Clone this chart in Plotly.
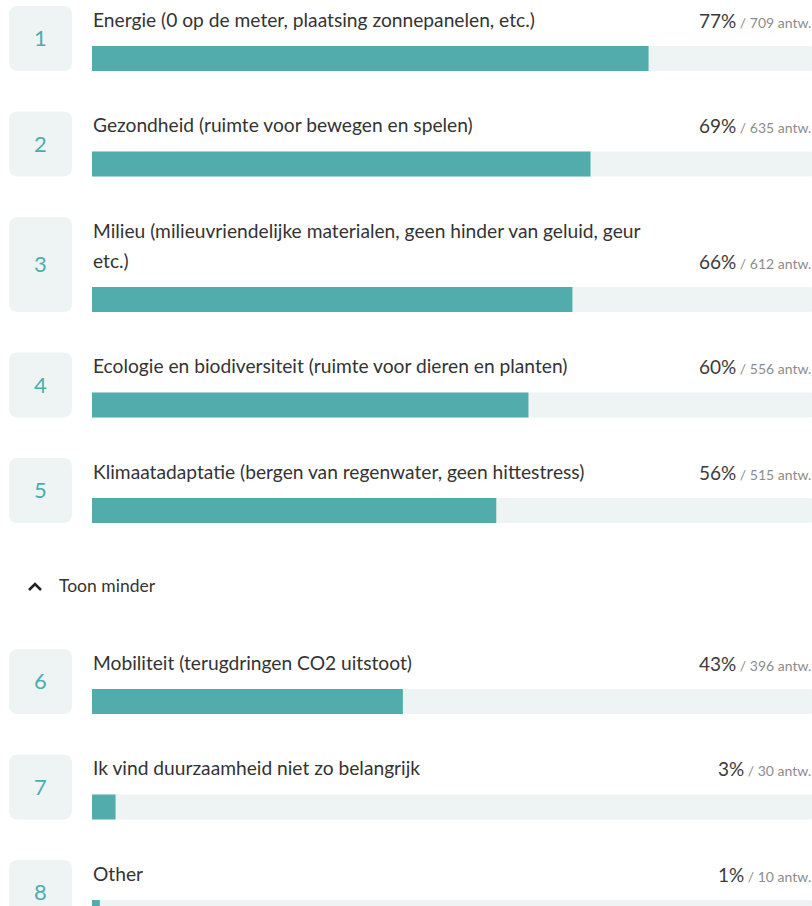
import textwrap
import plotly.graph_objects as go

# ---- data ----
ranks = [1, 2, 3, 4, 5, 6, 7, 8]
labels = [
    "Energie (0 op de meter, plaatsing zonnepanelen, etc.)",
    "Gezondheid (ruimte voor bewegen en spelen)",
    "Milieu (milieuvriendelijke materialen, geen hinder van geluid, geur etc.)",
    "Ecologie en biodiversiteit (ruimte voor dieren en planten)",
    "Klimaatadaptatie (bergen van regenwater, geen hittestress)",
    "Mobiliteit (terugdringen CO2 uitstoot)",
    "Ik vind duurzaamheid niet zo belangrijk",
    "Other",
]
percents = [77, 69, 66, 60, 56, 43, 3, 1]
counts = [709, 635, 612, 556, 515, 396, 30, 10]
total_respondents = 921
toggle_text = "Toon minder"
count_suffix = "antw."

# ---- styling / layout ----
W, H = 812, 906
FONT = "Lato"
TEAL = "#53acac"
TRACK = "#eef4f4"
BOX = "#eef4f4"
TXT = "#333333"
GREY = "#8c8c8c"

track_x0 = 92
track_w = 723
pitch = 105.5
line_h = 30
toon_gap = 85.5
wrap_chars = 67

fig = go.Figure()
shapes = []
annotations = []

def rrect(x0, y0, x1, y1, r):
    return (f"M{x0+r},{y0} L{x1-r},{y0} Q{x1},{y0} {x1},{y0+r} "
            f"L{x1},{y1-r} Q{x1},{y1} {x1-r},{y1} L{x0+r},{y1} "
            f"Q{x0},{y1} {x0},{y1-r} L{x0},{y0+r} Q{x0},{y0} {x0+r},{y0} Z")

y0 = 6.0
bar_y = []
toon_y = None
for i, (rk, lab, pct, cnt) in enumerate(zip(ranks, labels, percents, counts)):
    lines = textwrap.wrap(lab, wrap_chars)
    extra = (len(lines) - 1) * line_h
    # rank box
    shapes.append(dict(type="path", path=rrect(9, y0, 72, y0 + 65 + extra, 9),
                       xref="x", yref="y", fillcolor=BOX, line=dict(width=0), layer="below"))
    annotations.append(dict(x=40.5, y=y0 + (65 + extra) / 2 - 1, xref="x", yref="y",
                            text=str(rk), showarrow=False, xanchor="center", yanchor="middle",
                            font=dict(family=FONT, size=22, color="#4aaeae")))
    for k, ln in enumerate(lines):
        annotations.append(dict(x=track_x0 - 1, y=y0 + 13 + k * line_h, xref="x", yref="y",
                                text=ln, showarrow=False, xanchor="left", yanchor="middle",
                                font=dict(family=FONT, size=19.2, color=TXT)))
    annotations.append(dict(x=W, y=y0 + 14 + extra, xref="x", yref="y", xshift=1,
                            text=f"{pct}%<span style='font-size:14px;color:{GREY}'> / {cnt} {count_suffix}</span>",
                            showarrow=False, xanchor="right", yanchor="middle",
                            font=dict(family=FONT, size=19, color="#3a3a3a")))
    bar_y.append(y0 + extra + 52.5)
    y0 = y0 + pitch + extra
    if i == 4:
        toon_y = y0 + 22.5
        y0 += toon_gap

# toggle "Toon minder"
shapes.append(dict(type="path", path=f"M29,{toon_y+4} L35,{toon_y-2} L41,{toon_y+4}",
                   xref="x", yref="y", line=dict(color="#222", width=2.6)))
annotations.append(dict(x=57, y=toon_y - 0.5, xref="x", yref="y", text=toggle_text, showarrow=False,
                        xanchor="left", yanchor="middle", font=dict(family=FONT, size=17.5, color=TXT)))

fractions = [c / total_respondents for c in counts]

fig.add_trace(go.Bar(x=[1.0] * len(ranks), y=bar_y, orientation="h", width=25,
                     marker=dict(color=TRACK, line=dict(width=0), cornerradius=5),
                     xaxis="x2", yaxis="y", hoverinfo="skip", showlegend=False))
fig.add_trace(go.Bar(x=fractions, y=bar_y, orientation="h", width=25,
                     marker=dict(color=TEAL, line=dict(width=0), cornerradius=5),
                     xaxis="x2", yaxis="y", hoverinfo="skip", showlegend=False))

fig.update_layout(
    width=W, height=H, margin=dict(l=0, r=0, t=0, b=0),
    paper_bgcolor="white", plot_bgcolor="white",
    barmode="overlay", showlegend=False,
    xaxis=dict(range=[0, W], domain=[0, 1], visible=False, fixedrange=True),
    xaxis2=dict(range=[0, (W - track_x0) / track_w], domain=[track_x0 / W, 1],
                visible=False, anchor="y", fixedrange=True),
    yaxis=dict(range=[H, 0], visible=False, fixedrange=True),
    shapes=shapes, annotations=annotations,
)

fig.write_html("out.html", config={"displayModeBar": False},
               post_script="document.body.style.margin='0';document.body.style.overflow='hidden';")
